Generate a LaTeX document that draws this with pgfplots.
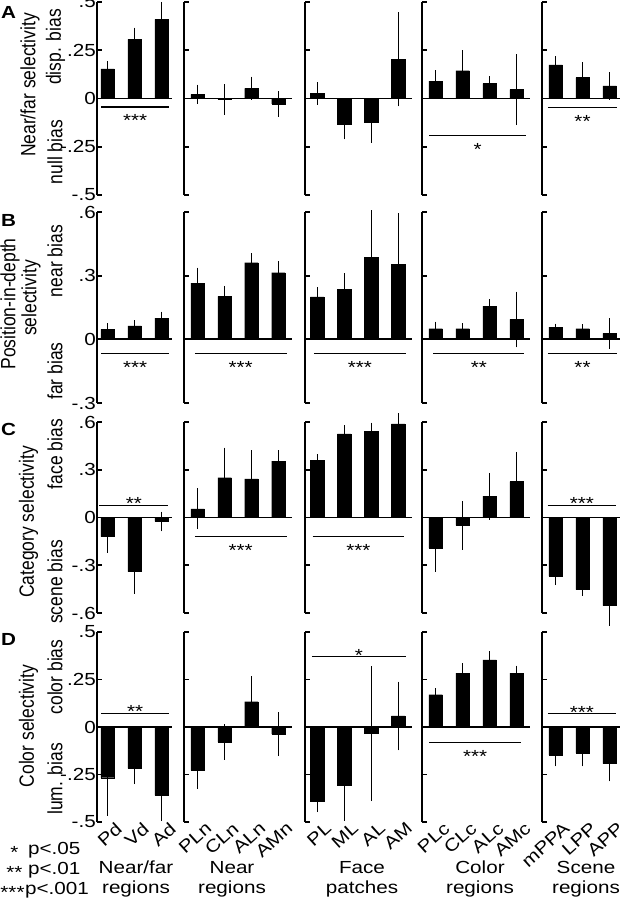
\documentclass[border=0pt]{standalone}
\usepackage{fontspec}
\setmainfont{Liberation Sans}[FakeStretch=1.18]
\newfontfamily\rotfont{Liberation Sans}
\usepackage{graphicx}
\usepackage{pgfplots}
\pgfplotsset{compat=1.18}
\pgfplotsset{
 panel/.style={scale only axis, clip=false,
   axis y line*=left, axis x line*=bottom,
   x axis line style={draw=none}, xtick=\empty, xtick style={draw=none},
   y axis line style={line width=1.8pt, black},
   ytick style={line width=1.8pt, black},
   tick align=inside, major tick length=5pt, ytick pos=left,
   yticklabels={}, yticklabel style={inner sep=1pt},
   extra y ticks={0}, extra y tick labels={},
   extra y tick style={grid=major, major grid style={line width=1.8pt, black}},
   anchor=south west},
 rA/.style={ymin=-0.5, ymax=0.5, height=193pt, ytick={-0.5,-0.25,0,0.25,0.5}},
 rB/.style={ymin=-0.3, ymax=0.6, height=191pt, ytick={-0.3,0,0.3,0.6}},
 rC/.style={ymin=-0.6, ymax=0.6, height=191pt, ytick={-0.6,-0.3,0,0.3,0.6}},
 rD/.style={ymin=-0.5, ymax=0.5, height=190pt, ytick={-0.5,-0.25,0,0.25,0.5},
   xtick={1,2,3,4},
   x tick label style={rotate=42, anchor=north east, inner sep=0pt, xshift=6pt, yshift=-4pt}},
 c1/.style={xmin=0.61, xmax=3.4, width=75.3pt},
 c2/.style={xmin=0.5, xmax=4.5, width=108pt},
 c3/.style={xmin=0.55, xmax=4.5, width=106.65pt},
 c4/.style={xmin=0.5, xmax=4.5, width=108pt},
 c5/.style={xmin=0.5, xmax=3.4, width=78.3pt},
 bars/.style={ybar, bar width=13.5pt, fill=black, draw=black,
   error bars/.cd, y dir=both, y explicit,
   error bar style={line width=1.2pt, black},
   error mark options={line width=1.2pt, mark size=2pt, black}},
}
\newcommand{\sigB}[4]{\draw[line width=1.2pt] (axis cs:#1,#3) -- node[midway, anchor=base, yshift=-20pt, inner sep=0pt]{#4} (axis cs:#2,#3);}
\newcommand{\sigA}[4]{\draw[line width=1.2pt] (axis cs:#1,#3) -- node[midway, anchor=base, yshift=-4.3pt, inner sep=0pt]{#4} (axis cs:#2,#3);}
\newcommand{\rt}[1]{\scalebox{1}[1.18]{\rotfont #1}}
\begin{document}
\fontsize{17.5}{21}\selectfont
\begin{tikzpicture}[x=1pt, y=1pt]
\useasboundingbox (0,0) rectangle (622,-900);
% ---------------- Row A ----------------
\begin{axis}[panel, rA, c1, at={(97pt,-195pt)}, yticklabels={-.5,-.25,0,.25,.5}]
\addplot[bars] coordinates {(1,0.153) +- (0,0.03) (2,0.307) +- (0,0.05) (3,0.41) +- (0,0.08)};
\sigB{0.76}{3.28}{-0.044}{***}
\end{axis}
\begin{axis}[panel, rA, c2, at={(184pt,-195pt)}]
\addplot[bars] coordinates {(1,0.022) +- (0,0.04) (2,-0.005) +- (0,0.068) (3,0.053) +- (0,0.05) (4,-0.028) +- (0,0.056)};
\end{axis}
\begin{axis}[panel, rA, c3, at={(305pt,-195pt)}]
\addplot[bars] coordinates {(1,0.025) +- (0,0.048) (2,-0.132) +- (0,0.07) (3,-0.123) +- (0,0.095) (4,0.203) +- (0,0.233)};
\end{axis}
\begin{axis}[panel, rA, c4, at={(422pt,-195pt)}]
\addplot[bars] coordinates {(1,0.09) +- (0,0.046) (2,0.144) +- (0,0.095) (3,0.077) +- (0,0.028) (4,0.046) +- (0,0.174)};
\sigB{0.77}{4.35}{-0.193}{*}
\end{axis}
\begin{axis}[panel, rA, c5, at={(542pt,-195pt)}]
\addplot[bars] coordinates {(1,0.174) +- (0,0.034) (2,0.108) +- (0,0.069) (3,0.065) +- (0,0.06)};
\sigB{0.72}{3.28}{-0.046}{**}
\end{axis}
% ---------------- Row B ----------------
\begin{axis}[panel, rB, c1, at={(97pt,-403pt)}, yticklabels={-.3,0,.3,.6}]
\addplot[bars] coordinates {(1,0.047) +- (0,0.02) (2,0.064) +- (0,0.016) (3,0.1) +- (0,0.021)};
\sigB{0.76}{3.28}{-0.065}{***}
\end{axis}
\begin{axis}[panel, rB, c2, at={(184pt,-403pt)}]
\addplot[bars] coordinates {(1,0.265) +- (0,0.063) (2,0.203) +- (0,0.04) (3,0.361) +- (0,0.036) (4,0.314) +- (0,0.045)};
\sigB{0.9}{4.3}{-0.065}{***}
\end{axis}
\begin{axis}[panel, rB, c3, at={(305pt,-403pt)}]
\addplot[bars] coordinates {(1,0.2) +- (0,0.035) (2,0.234) +- (0,0.067) (3,0.386) +- (0,0.214) (4,0.352) +- (0,0.232)};
\sigB{0.88}{4.29}{-0.065}{***}
\end{axis}
\begin{axis}[panel, rB, c4, at={(422pt,-403pt)}]
\addplot[bars] coordinates {(1,0.05) +- (0,0.024) (2,0.05) +- (0,0.016) (3,0.157) +- (0,0.023) (4,0.094) +- (0,0.122)};
\sigB{0.92}{4.29}{-0.065}{**}
\end{axis}
\begin{axis}[panel, rB, c5, at={(542pt,-403pt)}]
\addplot[bars] coordinates {(1,0.058) +- (0,0.007) (2,0.05) +- (0,0.011) (3,0.028) +- (0,0.063)};
\sigB{0.72}{3.28}{-0.065}{**}
\end{axis}
% ---------------- Row C ----------------
\begin{axis}[panel, rC, c1, at={(97pt,-613pt)}, yticklabels={-.6,-.3,0,.3,.6}]
\addplot[bars] coordinates {(1,-0.12) +- (0,0.088) (2,-0.34) +- (0,0.126) (3,-0.025) +- (0,0.05)};
\sigA{0.7}{3.25}{0.075}{**}
\end{axis}
\begin{axis}[panel, rC, c2, at={(184pt,-613pt)}]
\addplot[bars] coordinates {(1,0.055) +- (0,0.115) (2,0.25) +- (0,0.176) (3,0.243) +- (0,0.168) (4,0.354) +- (0,0.057)};
\sigB{0.9}{4.3}{-0.12}{***}
\end{axis}
\begin{axis}[panel, rC, c3, at={(305pt,-613pt)}]
\addplot[bars] coordinates {(1,0.358) +- (0,0.028) (2,0.526) +- (0,0.042) (3,0.543) +- (0,0.04) (4,0.589) +- (0,0.052)};
\sigB{0.83}{4.23}{-0.12}{***}
\end{axis}
\begin{axis}[panel, rC, c4, at={(422pt,-613pt)}]
\addplot[bars] coordinates {(1,-0.193) +- (0,0.134) (2,-0.05) +- (0,0.14) (3,0.134) +- (0,0.134) (4,0.226) +- (0,0.174)};
\end{axis}
\begin{axis}[panel, rC, c5, at={(542pt,-613pt)}]
\addplot[bars] coordinates {(1,-0.369) +- (0,0.044) (2,-0.453) +- (0,0.027) (3,-0.553) +- (0,0.116)};
\sigA{0.71}{3.24}{0.075}{***}
\end{axis}
% ---------------- Row D ----------------
\begin{axis}[panel, rD, c1, at={(97pt,-822pt)}, yticklabels={-.5,-.25,0,.25,.5}, xticklabels={Pd,Vd,Ad}]
\addplot[bars] coordinates {(1,-0.267) +- (0,0.19) (2,-0.218) +- (0,0.072) (3,-0.36) +- (0,0.125)};
\sigA{0.76}{3.28}{0.072}{**}
\end{axis}
\begin{axis}[panel, rD, c2, at={(184pt,-822pt)}, xticklabels={PLn,CLn,ALn,AMn}]
\addplot[bars] coordinates {(1,-0.228) +- (0,0.086) (2,-0.079) +- (0,0.082) (3,0.133) +- (0,0.123) (4,-0.038) +- (0,0.105)};
\end{axis}
\begin{axis}[panel, rD, c3, at={(305pt,-822pt)}, xticklabels={PL,ML,AL,AM}]
\addplot[bars] coordinates {(1,-0.393) +- (0,0.044) (2,-0.307) +- (0,0.177) (3,-0.035) +- (0,0.345) (4,0.058) +- (0,0.17)};
\sigA{0.8}{4.29}{0.37}{*}
\end{axis}
\begin{axis}[panel, rD, c4, at={(422pt,-822pt)}, xticklabels={PLc,CLc,ALc,AMc}]
\addplot[bars] coordinates {(1,0.17) +- (0,0.023) (2,0.283) +- (0,0.043) (3,0.353) +- (0,0.036) (4,0.283) +- (0,0.03)};
\sigB{0.77}{4.17}{-0.083}{***}
\end{axis}
\begin{axis}[panel, rD, c5, at={(542pt,-822pt)}, xticklabels={mPPA,LPP,APP}]
\addplot[bars] coordinates {(1,-0.147) +- (0,0.05) (2,-0.137) +- (0,0.06) (3,-0.193) +- (0,0.082)};
\sigA{0.72}{3.24}{0.07}{***}
\end{axis}
% ---------------- Labels ----------------
\node[anchor=base west, inner sep=0pt, font=\bfseries] at (1,-18) {A};
\node[anchor=base west, inner sep=0pt, font=\bfseries] at (1,-226) {B};
\node[anchor=base west, inner sep=0pt, font=\bfseries] at (1,-435) {C};
\node[anchor=base west, inner sep=0pt, font=\bfseries] at (1,-645) {D};
\node[rotate=90, inner sep=0pt] at (30,-85) {\rt{Near/far selectivity}};
\node[rotate=90, inner sep=0pt] at (55.5,-47) {\rt{disp. bias}};
\node[rotate=90, inner sep=0pt] at (55,-152) {\rt{null bias}};
\node[rotate=90, inner sep=0pt] at (10,-304) {\rt{Position-in-depth}};
\node[rotate=90, inner sep=0pt] at (31,-298) {\rt{selectivity}};
\node[rotate=90, inner sep=0pt] at (55,-261) {\rt{near bias}};
\node[rotate=90, inner sep=0pt] at (55,-371) {\rt{far bias}};
\node[rotate=90, inner sep=0pt] at (28.5,-522) {\rt{Category selectivity}};
\node[rotate=90, inner sep=0pt] at (55,-454) {\rt{face bias}};
\node[rotate=90, inner sep=0pt] at (55,-582) {\rt{scene bias}};
\node[rotate=90, inner sep=0pt] at (28.5,-726) {\rt{Color selectivity}};
\node[rotate=90, inner sep=0pt] at (55,-677) {\rt{color bias}};
\node[rotate=90, inner sep=0pt] at (55,-779) {\rt{lum. bias}};
% group names
\node[anchor=base, inner sep=0pt] at (136,-873) {Near/far};
\node[anchor=base, inner sep=0pt] at (136,-893) {regions};
\node[anchor=base, inner sep=0pt] at (232,-873) {Near};
\node[anchor=base, inner sep=0pt] at (232,-893) {regions};
\node[anchor=base, inner sep=0pt] at (362,-873) {Face};
\node[anchor=base, inner sep=0pt] at (362,-893) {patches};
\node[anchor=base, inner sep=0pt] at (480,-873) {Color};
\node[anchor=base, inner sep=0pt] at (480,-893) {regions};
\node[anchor=base, inner sep=0pt] at (586,-873) {Scene};
\node[anchor=base, inner sep=0pt] at (586,-893) {regions};
% legend
\node[anchor=base, inner sep=0pt] at (14.5,-858) {*};
\node[anchor=base, inner sep=0pt] at (14.5,-878) {**};
\node[anchor=base, inner sep=0pt] at (12.5,-898) {***};
\node[anchor=base west, inner sep=0pt] at (28,-854) {p<.05};
\node[anchor=base west, inner sep=0pt] at (28,-874) {p<.01};
\node[anchor=base west, inner sep=0pt] at (25,-894) {p<.001};
\end{tikzpicture}
\end{document}
